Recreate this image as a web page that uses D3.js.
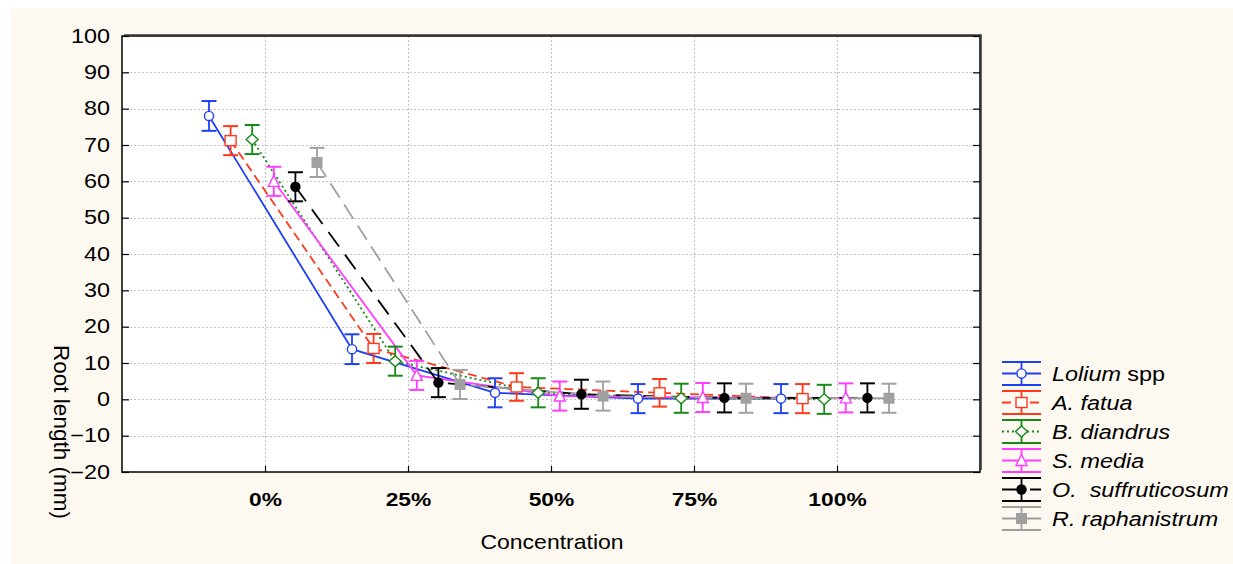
<!DOCTYPE html>
<html>
<head>
<meta charset="utf-8">
<script src="https://cdn.jsdelivr.net/npm/d3@7/dist/d3.min.js"></script>
<style>
  html, body { margin: 0; padding: 0; background: #ffffff; }
  svg { display: block; }
  text { font-family: "Liberation Sans", Arial, sans-serif; fill: #000; }
</style>
</head>
<body>
<svg id="chart" width="1233" height="564"></svg>
<script>
// Concentration categories and y tick values
const concentrations = ["0%", "25%", "50%", "75%", "100%"];
const yTickValues = [-20, -10, 0, 10, 20, 30, 40, 50, 60, 70, 80, 90, 100];

// Mean root length (mm) per species at each concentration
const species = ["Lolium spp", "A. fatua", "B. diandrus", "S. media", "O.  suffruticosum", "R. raphanistrum"];
const loliumValues    = [78.0, 13.8, 1.8, 0.2, 0.2];
const fatuaValues     = [71.2, 14.0, 3.4, 1.8, 0.2];
const diandrusValues  = [71.5, 10.5, 1.8, 0.3, 0.0];
const mediaValues     = [60.0,  6.6, 0.9, 0.5, 0.4];
const suffValues      = [58.5,  4.6, 1.4, 0.4, 0.4];
const raphValues      = [65.2,  4.1, 0.9, 0.3, 0.3];
// Half-width of the error bars (mm)
const loliumErr   = [4.1, 4.1, 4.0, 4.0, 4.0];
const fatuaErr    = [4.0, 4.0, 3.8, 3.8, 4.0];
const diandrusErr = [4.0, 4.0, 4.0, 4.0, 4.0];
const mediaErr    = [4.0, 4.0, 4.0, 4.0, 4.0];
const suffErr     = [4.0, 4.0, 4.0, 4.0, 4.0];
const raphErr     = [4.0, 4.0, 4.0, 4.0, 4.0];

const seriesValues = [loliumValues, fatuaValues, diandrusValues, mediaValues, suffValues, raphValues];
const seriesErrors = [loliumErr, fatuaErr, diandrusErr, mediaErr, suffErr, raphErr];

const styles = [
  { color: "#1f3ff5", dash: null,    marker: "circleOpen" },
  { color: "#ff3a1c", dash: "9,5",   marker: "squareOpen" },
  { color: "#178a17", dash: "2,3",   marker: "diamondOpen" },
  { color: "#ff3cff", dash: null,    marker: "triangleOpen" },
  { color: "#000000", dash: "18,10", marker: "circleFilled" },
  { color: "#a0a0a0", dash: "17,8",  marker: "squareFilled" }
];

const svg = d3.select("#chart");
const SX = 1.2; // horizontal stretch applied to text

// Put a text element's position into a transform so it can be stretched horizontally
function stretch(sel, sx) {
  sel.each(function () {
    const t = d3.select(this);
    const x = +t.attr("x") || 0, y = +t.attr("y") || 0;
    t.attr("x", 0).attr("y", 0).attr("transform", `translate(${x},${y}) scale(${sx},1)`);
  });
}

// Page background
svg.append("rect").attr("x", 11).attr("y", 8).attr("width", 1222).attr("height", 556).attr("fill", "#fdf9f1");

const plot = { left: 122, right: 980, top: 36, bottom: 472 };

const x = d3.scalePoint().domain(concentrations).range([plot.left, plot.right]).padding(1);
const y = d3.scaleLinear().domain([-20, 100]).range([plot.bottom, plot.top]);
const offset = i => (i - 2.5) * 21.6 - 2;

svg.append("rect").attr("x", plot.left).attr("y", plot.top)
  .attr("width", plot.right - plot.left).attr("height", plot.bottom - plot.top).attr("fill", "#ffffff");

// Grid
const grid = svg.append("g").attr("stroke", "#c4c4c4").attr("stroke-width", 1).attr("stroke-dasharray", "2,2");
grid.selectAll("line.h").data(yTickValues.filter(v => v > -20 && v < 100)).join("line")
  .attr("x1", plot.left).attr("x2", plot.right)
  .attr("y1", d => Math.round(y(d)) + 0.5).attr("y2", d => Math.round(y(d)) + 0.5);
grid.selectAll("line.v").data(concentrations).join("line")
  .attr("y1", plot.top).attr("y2", plot.bottom)
  .attr("x1", d => Math.round(x(d)) + 0.5).attr("x2", d => Math.round(x(d)) + 0.5);

// Axes with inward ticks
const yAxis = svg.append("g").attr("transform", `translate(${plot.left},0)`)
  .call(d3.axisLeft(y).tickValues(yTickValues).tickSizeInner(-7).tickSizeOuter(0).tickPadding(12));
yAxis.select(".domain").remove();
yAxis.selectAll("line").attr("stroke", "#000").attr("stroke-width", 1.2);
yAxis.selectAll("text").attr("font-size", 19.5).attr("font-family", "Liberation Sans, Arial, sans-serif");
stretch(yAxis.selectAll("text"), SX);

const yAxisR = svg.append("g").attr("transform", `translate(${plot.right},0)`)
  .call(d3.axisRight(y).tickValues(yTickValues).tickSizeInner(-7).tickSizeOuter(0).tickFormat(""));
yAxisR.select(".domain").remove();
yAxisR.selectAll("line").attr("stroke", "#000").attr("stroke-width", 1.2);

const xAxis = svg.append("g").attr("transform", `translate(0,${plot.bottom})`)
  .call(d3.axisBottom(x).tickSizeInner(-6).tickSizeOuter(0).tickPadding(21));
xAxis.select(".domain").remove();
xAxis.selectAll("line").attr("stroke", "#000").attr("stroke-width", 1.2);
xAxis.selectAll("text").attr("font-size", 19).attr("font-weight", "bold")
  .attr("font-family", "Liberation Sans, Arial, sans-serif");
stretch(xAxis.selectAll("text"), 1.2);

// Frame
svg.append("rect").attr("x", plot.left).attr("y", plot.top)
  .attr("width", plot.right - plot.left).attr("height", plot.bottom - plot.top)
  .attr("fill", "none").attr("stroke", "#000").attr("stroke-width", 1.5);
svg.append("path").attr("d", `M${plot.left + 2},${plot.top - 1} H${plot.right + 1} V${plot.bottom - 2}`)
  .attr("fill", "none").attr("stroke", "#333").attr("stroke-width", 1.5);

// Axis titles
const xt = svg.append("text").attr("x", 552).attr("y", 549).attr("text-anchor", "middle")
  .attr("font-size", 20).text("Concentration");
stretch(xt, 1.15);
svg.append("text").attr("transform", "translate(54,432) rotate(90)").attr("text-anchor", "middle")
  .attr("font-size", 22.5).text("Root length (mm)");

// Marker shapes
function drawMarker(g, type, color, cx, cy) {
  if (type === "circleOpen") {
    g.append("circle").attr("cx", cx).attr("cy", cy).attr("r", 4.6)
      .attr("fill", "#fff").attr("stroke", color).attr("stroke-width", 1.4);
  } else if (type === "circleFilled") {
    g.append("circle").attr("cx", cx).attr("cy", cy).attr("r", 5.2).attr("fill", color);
  } else if (type === "squareOpen") {
    g.append("rect").attr("x", cx - 5.5).attr("y", cy - 5).attr("width", 11).attr("height", 10)
      .attr("fill", "#fff").attr("stroke", color).attr("stroke-width", 1.4);
  } else if (type === "squareFilled") {
    g.append("rect").attr("x", cx - 5.5).attr("y", cy - 5.5).attr("width", 11).attr("height", 11)
      .attr("fill", color);
  } else if (type === "diamondOpen") {
    g.append("path").attr("d", `M${cx},${cy - 5.5} L${cx + 6},${cy} L${cx},${cy + 5.5} L${cx - 6},${cy} Z`)
      .attr("fill", "#fff").attr("stroke", color).attr("stroke-width", 1.4);
  } else if (type === "triangleOpen") {
    g.append("path").attr("d", `M${cx},${cy - 6} L${cx + 5.5},${cy + 5} L${cx - 5.5},${cy + 5} Z`)
      .attr("fill", "#fff").attr("stroke", color).attr("stroke-width", 1.4);
  }
}

// Series lines
const line = d3.line();
seriesValues.forEach((vals, i) => {
  const pts = vals.map((v, j) => [x(concentrations[j]) + offset(i), y(v)]);
  svg.append("path").attr("d", line(pts)).attr("fill", "none")
    .attr("stroke", styles[i].color).attr("stroke-width", 1.8)
    .attr("stroke-dasharray", styles[i].dash);
});

// Error bars and markers
const capHalf = 7.5;
seriesValues.forEach((vals, i) => {
  const g = svg.append("g");
  const c = styles[i].color;
  vals.forEach((v, j) => {
    const cx = x(concentrations[j]) + offset(i);
    const lo = y(v - seriesErrors[i][j]), hi = y(v + seriesErrors[i][j]);
    g.append("line").attr("x1", cx).attr("x2", cx).attr("y1", hi).attr("y2", lo)
      .attr("stroke", c).attr("stroke-width", 1.8);
    [hi, lo].forEach(yy => g.append("line").attr("x1", cx - capHalf).attr("x2", cx + capHalf)
      .attr("y1", yy).attr("y2", yy).attr("stroke", c).attr("stroke-width", 2));
    drawMarker(g, styles[i].marker, c, cx, y(v));
  });
});

// Legend
const legend = svg.append("g");
species.forEach((name, i) => {
  const top = 362 + i * 29;
  const c = styles[i].color;
  const x0 = 1002, x1 = 1041, xm = (x0 + x1) / 2, ym = top + 11.5;
  const g = legend.append("g");
  g.append("line").attr("x1", x0).attr("x2", x1).attr("y1", top).attr("y2", top).attr("stroke", c).attr("stroke-width", 2);
  g.append("line").attr("x1", x0).attr("x2", x1).attr("y1", top + 23).attr("y2", top + 23).attr("stroke", c).attr("stroke-width", 2);
  g.append("line").attr("x1", xm).attr("x2", xm).attr("y1", top).attr("y2", top + 23).attr("stroke", c).attr("stroke-width", 1.8);
  g.append("line").attr("x1", x0).attr("x2", x1).attr("y1", ym).attr("y2", ym)
    .attr("stroke", c).attr("stroke-width", 1.8).attr("stroke-dasharray", styles[i].dash);
  drawMarker(g, styles[i].marker, c, xm, ym);
  const t = g.append("text").attr("x", 1052).attr("y", top + 19).attr("font-size", 19.5)
    .style("white-space", "pre");
  if (i === 0) {
    t.append("tspan").attr("font-style", "italic").text("Lolium");
    t.append("tspan").text(" spp");
  } else {
    t.attr("font-style", "italic").text(name);
  }
  stretch(t, SX);
});
</script>
</body>
</html>
